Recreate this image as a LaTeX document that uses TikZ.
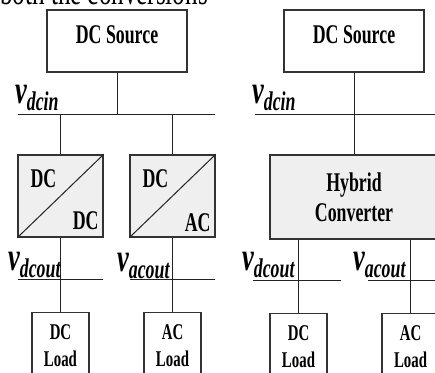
\documentclass[tikz,border=0pt]{standalone}
\usepackage{fontspec}
\setmainfont{Liberation Serif}[FakeStretch=0.66]
\usepackage{tikz}
\usetikzlibrary{positioning}
\definecolor{ink}{HTML}{222222}
\definecolor{edge}{HTML}{333333}
\definecolor{convbg}{HTML}{EFEFEF}
\tikzset{
  src/.style={rectangle,draw=edge,line width=1.4pt,fill=white,inner sep=0pt,
    minimum width=140pt,minimum height=62pt,text depth=12pt,
    font=\fontsize{27}{31}\selectfont\bfseries},
  cnv/.style={rectangle,draw=edge,line width=1.4pt,fill=convbg,inner sep=0pt,
    minimum width=85pt,minimum height=82pt},
  hyb/.style={cnv,minimum width=168pt,minimum height=84pt,align=center,
    font=\fontsize{27}{30}\selectfont\bfseries},
  ld/.style={rectangle,draw=edge,line width=1.4pt,fill=white,inner sep=0pt,
    minimum width=57pt,minimum height=67pt,align=center,
    font=\fontsize{22.5}{27}\selectfont\bfseries},
  cvl/.style={inner sep=0pt,font=\fontsize{27}{31}\selectfont\bfseries},
  wire/.style={draw=ink,line width=1pt},
  vl/.style={inner sep=0pt,anchor=base west},
}
\newcommand{\vsub}[1]{{\fontsize{40}{40}\selectfont\bfseries\itshape v}%
  \raisebox{-7pt}{\fontsize{27}{27}\selectfont\bfseries\itshape #1}}

\begin{document}
\begin{tikzpicture}[x=1pt,y=1pt]
  \useasboundingbox (0,0) rectangle (435,-372);
  \node[anchor=base west,inner sep=0pt,font=\fontsize{38}{38}\selectfont] (cap) at (0,-5) {both the conversions};

  % separate converters
  \node[src] (src1) at (117,-41) {DC Source};
  \node[cnv] (dcdc) at (60.5,-196) {};
  \node[cnv] (dcac) at (172.5,-196) {};
  \node[ld,below=74pt of dcdc] (dcl1) {DC\\Load};
  \node[ld,below=74pt of dcac] (acl1) {AC\\Load};
  \draw[wire] (dcdc.south west) -- (dcdc.north east);
  \draw[wire] (dcac.south west) -- (dcac.north east);
  \node[cvl,anchor=north west] (dcdc1) at ([shift={(13pt,-15pt)}]dcdc.north west) {DC};
  \node[cvl,anchor=base east] (dcdc2) at ([shift={(-5pt,8pt)}]dcdc.south east) {DC};
  \node[cvl,anchor=north west] (dcac1) at ([shift={(13pt,-15pt)}]dcac.north west) {DC};
  \node[cvl,anchor=base east] (dcac2) at ([shift={(-5pt,6pt)}]dcac.south east) {AC};
  \coordinate (in1w) at (18,-114);
  \coordinate (in1e) at (215,-114);
  \coordinate (o1aw) at (18,-279);
  \coordinate (o1ae) at (103,-279);
  \coordinate (o1bw) at (130,-279);
  \coordinate (o1be) at (215,-279);
  \draw[wire] (in1w) -- (in1e);
  \draw[wire] (o1aw) -- (o1ae);
  \draw[wire] (o1bw) -- (o1be);
  \draw[wire] (src1.south) -- (src1.south |- in1w);
  \foreach \c in {dcdc,dcac} \draw[wire] (\c.north |- in1w) -- (\c.north);
  \draw[wire] (dcdc.south) -- (dcl1.north);
  \draw[wire] (dcac.south) -- (acl1.north);
  \node[vl] (vin1) at (15,-103) {\vsub{dcin}};
  \node[vl] (vo1a) at (8,-270) {\vsub{dcout}};
  \node[vl] (vo1b) at (117,-271) {\vsub{acout}};

  % hybrid converter
  \node[src] (src2) at (354,-41) {DC Source};
  \node[hyb] (hyb) at (354,-197) {Hybrid\\Converter};
  \node[ld,below=73pt of hyb.south,xshift=-55.5pt] (dcl2) {DC\\Load};
  \node[ld,below=73pt of hyb.south,xshift=56.5pt] (acl2) {AC\\Load};
  \coordinate (in2w) at (255,-114);
  \coordinate (in2e) at (440,-114);
  \coordinate (o2aw) at (253,-280);
  \coordinate (o2ae) at (341,-280);
  \coordinate (o2bw) at (368,-280);
  \coordinate (o2be) at (440,-280);
  \draw[wire] (in2w) -- (in2e);
  \draw[wire] (o2aw) -- (o2ae);
  \draw[wire] (o2bw) -- (o2be);
  \draw[wire] (src2.south) -- (hyb.north);
  \foreach \l in {dcl2,acl2} \draw[wire] (\l.north |- hyb.south) -- (\l.north);
  \node[vl] (vin2) at (252,-103) {\vsub{dcin}};
  \node[vl] (vo2a) at (242,-270) {\vsub{dcout}};
  \node[vl] (vo2b) at (353,-270) {\vsub{acout}};
\end{tikzpicture}
\end{document}
